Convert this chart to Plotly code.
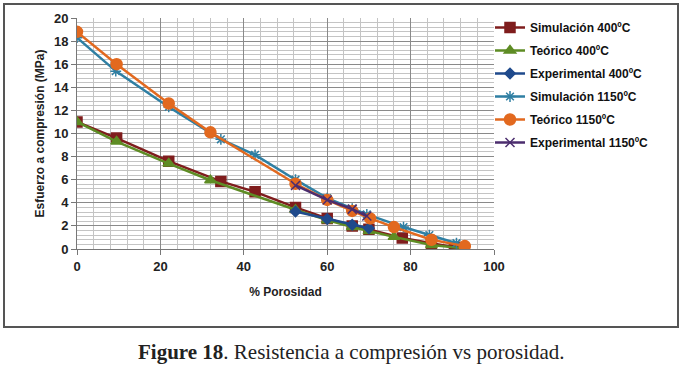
import plotly.graph_objects as go

# ---- data ----
sim400_x = [0, 9.5, 22, 34.5, 42.7, 52.4, 60, 66, 70, 78, 85, 90.5]
sim400_y = [11.0, 9.6, 7.6, 5.85, 4.95, 3.6, 2.65, 2.0, 1.7, 0.95, 0.5, 0.15]

teo400_x = [0, 9.5, 22, 32, 52.4, 60, 66, 70, 76, 85, 93]
teo400_y = [11.0, 9.3, 7.4, 5.95, 3.4, 2.5, 1.9, 1.55, 1.05, 0.35, 0.05]

exp400_x = [52.4, 60, 66, 70]
exp400_y = [3.25, 2.6, 2.1, 1.8]

sim1150_x = [0, 9.3, 22, 34.5, 42.7, 52.4, 60, 66, 69.5, 78.3, 84.5, 91]
sim1150_y = [18.3, 15.4, 12.3, 9.5, 8.15, 6.0, 4.4, 3.5, 3.0, 1.9, 1.2, 0.5]

teo1150_x = [0, 9.5, 22, 32, 52.4, 60, 66, 70.3, 76, 85, 93]
teo1150_y = [18.8, 16.0, 12.6, 10.1, 5.65, 4.25, 3.3, 2.65, 1.9, 0.8, 0.25]

exp1150_x = [52.4, 60, 66, 69.5]
exp1150_y = [5.5, 4.25, 3.45, 2.85]

x_ticks = [0, 20, 40, 60, 80, 100]
y_ticks = [0, 2, 4, 6, 8, 10, 12, 14, 16, 18, 20]

names = ["Simulación 400ºC", "Teórico 400ºC", "Experimental 400ºC",
         "Simulación 1150ºC", "Teórico 1150ºC", "Experimental 1150ºC"]
colors = ["#7F1D1D", "#5E8C24", "#1F4A8C", "#2F7FA3", "#E2691F", "#4B2D6E"]
symbols = ["square", "triangle-up", "diamond", "asterisk-open", "circle", "x-thin-open"]
sizes = [10, 10, 8, 9, 11, 9]

series = [(sim400_x, sim400_y), (teo400_x, teo400_y), (exp400_x, exp400_y),
          (sim1150_x, sim1150_y), (teo1150_x, teo1150_y), (exp1150_x, exp1150_y)]

fig = go.Figure()
for i, ((xs, ys), n, c, s, sz) in enumerate(zip(series, names, colors, symbols, sizes)):
    fig.add_trace(go.Scatter(
        x=xs, y=ys, name="<b>" + n + "</b>", mode="lines+markers",
        line=dict(color=c, width=2.5),
        marker=dict(symbol=s, size=sz, color=c, line=dict(color=c, width=1.5)),
        legendgroup=f"g{i}",
    ))

tick_font = dict(family="Liberation Sans, Arial", size=13, color="#222")
title_font = dict(family="Liberation Sans, Arial", size=12, color="#222")

fig.update_xaxes(
    range=[0, 100], tickvals=x_ticks, ticktext=[f"<b>{v}</b>" for v in x_ticks],
    showgrid=True, gridcolor="#8a8a8a", gridwidth=1,
    minor=dict(dtick=4, tick0=0, showgrid=True, gridcolor="#c4c4c4", gridwidth=1),
    showline=True, linecolor="#777", linewidth=1,
    ticks="outside", ticklen=5, tickcolor="#777",
    tickfont=tick_font, zeroline=False, automargin=False,
    title=dict(text="<b>% Porosidad</b>", font=title_font, standoff=15),
)
fig.update_yaxes(
    range=[0, 20], tickvals=y_ticks, ticktext=[f"<b>{v}</b>" for v in y_ticks],
    showgrid=True, gridcolor="#8a8a8a", gridwidth=1,
    minor=dict(dtick=0.4, tick0=0, showgrid=True, gridcolor="#c4c4c4", gridwidth=1),
    showline=True, linecolor="#777", linewidth=1,
    ticks="outside", ticklen=5, tickcolor="#777",
    tickfont=tick_font, zeroline=False, automargin=False,
    title=dict(text="<b>Esfuerzo a compresión (MPa)</b>", font=title_font, standoff=6),
)

L, R, T, B = 77, 190, 18, 119
W, H = 684, 368
pw, ph = W - L - R, H - T - B

def px(x):
    return (x - L) / pw

def py(y):
    return (H - B - y) / ph

fig.add_shape(type="rect", xref="paper", yref="paper",
              x0=px(4), x1=px(678), y0=py(327), y1=py(4),
              line=dict(color="#555", width=2), layer="above")

fig.add_annotation(xref="paper", yref="paper", x=px(351), y=py(352),
                   text="<b>Figure 18</b>. Resistencia a compresión vs porosidad.",
                   showarrow=False, xanchor="center", yanchor="middle",
                   font=dict(family="Liberation Serif, Times New Roman, serif", size=21, color="#222"))

fig.update_layout(
    width=W, height=H,
    margin=dict(l=L, r=R, t=T, b=B, pad=0, autoexpand=False),
    paper_bgcolor="white", plot_bgcolor="white",
    showlegend=True,
    legend=dict(x=px(490), y=py(13), xanchor="left", yanchor="top",
                font=dict(family="Liberation Sans, Arial", size=12, color="#111"),
                traceorder="grouped", tracegroupgap=4,
                bgcolor="rgba(0,0,0,0)", itemwidth=30),
    font=dict(family="Liberation Sans, Arial"),
)

fig.write_html("out.html", config={"displayModeBar": False},
               post_script="document.body.style.margin='0';document.body.style.overflow='hidden';")
